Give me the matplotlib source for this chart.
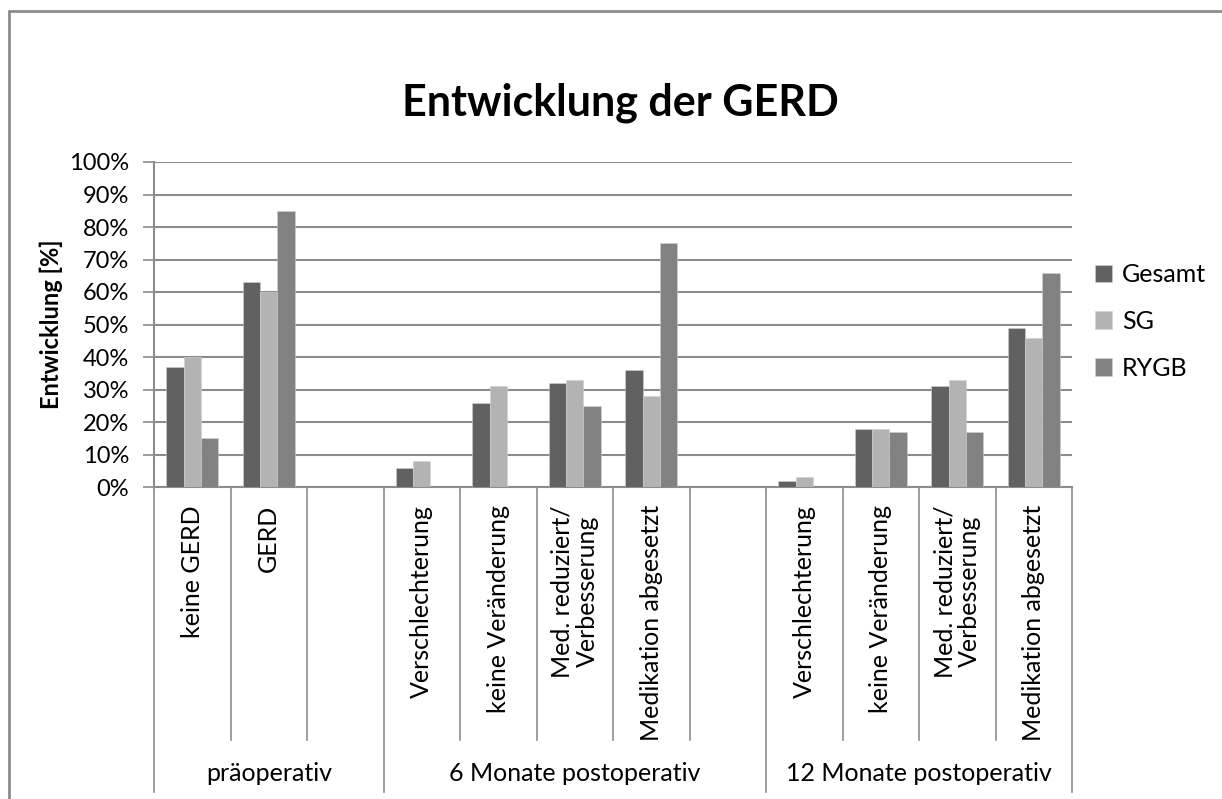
import matplotlib.pyplot as plt
import matplotlib.transforms as mtransforms
from matplotlib.patches import Rectangle
import numpy as np

# ----------------------------------------------
# Daten
# ----------------------------------------------
kategorien = ["keine GERD", "GERD", "",
              "Verschlechterung", "keine Veränderung", "Med. reduziert/\nVerbesserung",
              "Medikation abgesetzt", "",
              "Verschlechterung", "keine Veränderung", "Med. reduziert/\nVerbesserung",
              "Medikation abgesetzt"]
gruppen = ["präoperativ", "6 Monate postoperativ", "12 Monate postoperativ"]
gruppen_laenge = [3, 5, 4]

gesamt = [37, 63, np.nan, 6, 26, 32, 36, np.nan, 2, 18, 31, 49]
sg = [40, 60, np.nan, 8, 31, 33, 28, np.nan, 3, 18, 33, 46]
rygb = [15, 85, np.nan, 0, 0, 25, 75, np.nan, 0, 17, 17, 66]

serien = {"Gesamt": gesamt, "SG": sg, "RYGB": rygb}
farben = ["#616161", "#b3b3b3", "#828282"]

# ----------------------------------------------
# Layout
# ----------------------------------------------
plt.rcParams['font.family'] = ['Lato', 'DejaVu Sans']
fig = plt.figure(figsize=(12.22, 7.99), dpi=100)
ax = fig.add_axes([154/1222, 1-487/799, (1072-154)/1222, (487-162)/799])

# Rahmen um das Diagramm (rechts/unten abgeschnitten)
fig.patches.append(Rectangle((9/1222, -0.2), 1.2, 1-11/799+0.2, transform=fig.transFigure,
                             fill=False, edgecolor="#8c8c8c", linewidth=2))

x = np.arange(len(kategorien))
breite = 0.225
for i, (name, werte) in enumerate(serien.items()):
    ax.bar(x + (i-1)*breite, np.array(werte)/100, breite, color=farben[i],
           edgecolor="#d0d0d0", linewidth=0.4, label=name, zorder=3)

ax.set_xlim(-0.5, len(kategorien)-0.5)
ax.set_ylim(0, 1)
ax.set_yticks(np.arange(0, 1.01, 0.1))
ax.set_yticklabels([f"{int(round(v*100))}%" for v in np.arange(0, 1.01, 0.1)], fontsize=17)
ax.yaxis.grid(True, color="#8c8c8c", linewidth=1.5, zorder=0)
ax.tick_params(axis="y", length=8, width=1.2, color="#8c8c8c", pad=10)
ax.set_xticks([])
for s in ["top", "right"]:
    ax.spines[s].set_visible(False)
for s in ["left", "bottom"]:
    ax.spines[s].set_color("#8c8c8c")
    ax.spines[s].set_linewidth(1.5)

ax.set_ylabel("Entwicklung [%]", fontsize=17, fontweight="bold", labelpad=4)
fig.text(620/1222, 1-103/799, "Entwicklung der GERD", fontsize=31, fontweight="bold",
         ha="center", va="center")

# ----------------------------------------------
# Mehrstufige Kategorienachse
# ----------------------------------------------
trans = mtransforms.blended_transform_factory(ax.transData, ax.transAxes)
h = 325.0
for i, lab in enumerate(kategorien):
    ax.text(i, -18/h, lab, rotation=90, ha="center", va="top", fontsize=18,
            transform=trans, linespacing=1.1, multialignment="center")

start = 0
grenzen = [-0.5]
for g, n in zip(gruppen, gruppen_laenge):
    mitte = start + (n-1)/2
    ax.text(mitte, -(773-487)/h, g, ha="center", va="center", fontsize=18, transform=trans)
    for k in range(1, n):
        pos = start + k - 0.5
        ax.plot([pos, pos], [0, -(740-487)/h], color="#8c8c8c", linewidth=1.2,
                transform=trans, clip_on=False)
    start += n
    grenzen.append(start - 0.5)
for pos in grenzen:
    ax.plot([pos, pos], [0, -(792-487)/h], color="#8c8c8c", linewidth=1.2,
            transform=trans, clip_on=False)

leg = ax.legend(loc="center left", bbox_to_anchor=(1.0, 0.51), frameon=False, fontsize=18,
                handlelength=0.7, handleheight=0.7, labelspacing=0.95, handletextpad=0.4)

fig.savefig("out.png", dpi=100)
